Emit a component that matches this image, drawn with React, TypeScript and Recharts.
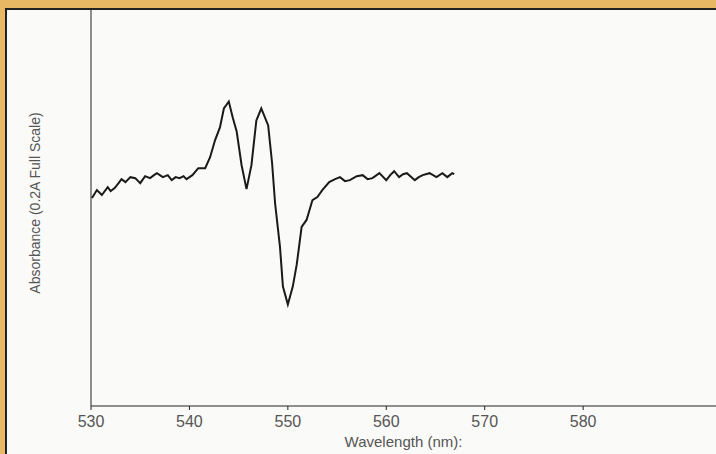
import React from 'react';
import { LineChart, Line, XAxis, YAxis } from 'recharts';

// wavelength (nm)
const wavelength = [
  530.1, 530.6, 531.1, 531.7, 532.0, 532.4, 532.8, 533.1, 533.5, 534.0, 534.5, 535.0,
  535.5, 536.0, 536.4, 536.7, 537.3, 537.8, 538.2, 538.6, 539.0, 539.4, 539.7, 540.3,
  540.9, 541.6, 542.1, 542.6, 543.1, 543.5, 544.0, 544.4, 544.8, 545.3, 545.8, 546.3,
  546.8, 547.3, 548.0, 548.4, 548.7, 549.2, 549.5, 550.0, 550.5, 550.9, 551.4, 551.9,
  552.5, 553.0, 553.5, 554.2, 554.8, 555.3, 555.8, 556.3, 557.0, 557.6, 558.1, 558.6,
  559.3, 560.0, 560.4, 560.8, 561.3, 561.7, 562.1, 562.9, 563.3, 563.7, 564.4, 565.1,
  565.7, 566.2, 566.7, 566.9,
];

// absorbance in mA (0.2 A full scale = 200)
const absorbance = [
  104.5, 108.5, 106, 110, 108, 109.5, 112, 114, 112.5, 115, 114.5, 112,
  115.5, 114.5, 116, 117, 115, 116, 113.5, 115, 114.5, 115.5, 114, 116,
  119.5, 119.5, 125, 133.5, 140, 149.5, 153, 145, 138, 121, 109, 121,
  143.5, 149.5, 141, 122, 102, 80, 60, 51, 60, 71, 90, 93.5,
  103.5, 105, 108.5, 112.5, 114, 115, 113, 113.5, 115.5, 116, 114, 114.5,
  117, 113.5, 116, 118, 115, 116.5, 117, 113.5, 115, 116, 117, 115,
  117, 115, 117, 116.5,
];

const xTicks = [530, 540, 550, 560, 570, 580];

const data = wavelength.map((w, i) => ({ wl: w, abs: absorbance[i] }));

const font = '"Liberation Sans", Arial, sans-serif';

const App: React.FC = () => {
  return (
    <div style={{ position: 'absolute', left: 0, top: 0, width: 716, height: 454, background: '#e9b865', overflow: 'hidden' }}>
      <div
        style={{
          position: 'absolute', left: 5, top: 8, right: 0, bottom: 0,
          background: '#fafaf8', borderLeft: '2px solid #222', borderTop: '2px solid #222',
        }}
      />
      <div style={{ position: 'absolute', left: 0, top: 0 }}>
        <LineChart width={716} height={454} data={data} margin={{ top: 8, right: 0, left: 0, bottom: 0 }}>
          <XAxis
            dataKey="wl"
            type="number"
            domain={[530, 593.5]}
            ticks={xTicks}
            height={48}
            tickSize={4}
            tickMargin={6}
            stroke="#222"
            tick={{ fill: '#555', fontSize: 16, fontFamily: font }}
            label={(props: any) => {
              const vb = props.viewBox;
              return (
                <text x={vb.x + vb.width / 2} y={447} textAnchor="middle" fill="#555" fontSize={15} fontFamily={font}>
                  Wavelength (nm):
                </text>
              );
            }}
          />
          <YAxis
            type="number"
            domain={[0, 200]}
            width={91}
            tick={false}
            tickLine={false}
            stroke="#222"
            label={(props: any) => {
              const vb = props.viewBox;
              const cx = vb.x + 36;
              const cy = vb.y + vb.height / 2 - 4;
              return (
                <text x={cx} y={cy} transform={`rotate(-90 ${cx} ${cy})`} textAnchor="middle" dominantBaseline="middle" fill="#555" fontSize={14} fontFamily={font}>
                  Absorbance (0.2A Full Scale)
                </text>
              );
            }}
          />
          <Line type="linear" dataKey="abs" stroke="#1a1a1a" strokeWidth={2} dot={false} isAnimationActive={false} />
        </LineChart>
      </div>
    </div>
  );
};

export default App;
